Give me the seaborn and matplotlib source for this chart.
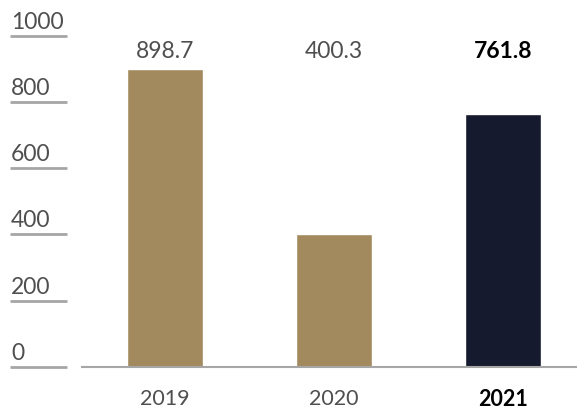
import matplotlib
matplotlib.use("Agg")
import matplotlib.pyplot as plt
import seaborn as sns
import pandas as pd

years = ["2019", "2020", "2021"]
values = [898.7, 400.3, 761.8]
value_labels = ["898.7", "400.3", "761.8"]
y_ticks = [0, 200, 400, 600, 800, 1000]
y_tick_labels = ["0", "200", "400", "600", "800", "1000"]

GOLD = "#A28A5E"
NAVY = "#151A2E"
GREY_TEXT = "#4F4F4F"
LINE = "#A6A6A6"

sns.set_theme(style="white")
plt.rcParams["font.family"] = ["Lato", "DejaVu Sans"]

df = pd.DataFrame({"year": years, "value": values})
palette = {"2019": GOLD, "2020": GOLD, "2021": NAVY}

W, H = 577, 411
fig = plt.figure(figsize=(W / 100, H / 100), dpi=100)

# axes geometry in pixels
px_left, px_right = 10, 577
px_zero, px_top = 367, 20
ax = fig.add_axes([px_left / W, (H - px_zero) / H,
                   (px_right - px_left) / W, (px_zero - px_top) / H])

sns.barplot(data=df, x="year", y="value", hue="year", palette=palette,
            width=0.45, legend=False, ax=ax, saturation=1)

# horizontal scale: 169 px per category, first bar centre at 165 px
step = 169.0
x0 = -(165 - px_left) / step
x1 = (px_right - 165) / step
ax.set_xlim(x0, x1)
ppu = 66.3 / 200  # pixels per data unit
ymax = (px_zero - px_top) / ppu
ax.set_ylim(0, ymax)

for s in ax.spines.values():
    s.set_visible(False)
ax.set_yticks([])
ax.set_xlabel("")
ax.set_ylabel("")

# short tick rules with labels sitting above them
seg_end = x0 + (67 - px_left) / step
for t, lab in zip(y_ticks, y_tick_labels):
    ax.hlines(t, x0, seg_end, color=LINE, lw=2, clip_on=False)
    ax.text(x0 + 1 / step, t + 7 / ppu, lab, ha="left", va="baseline",
            fontsize=16.5, color=GREY_TEXT)

# baseline under the bars
ax.hlines(0, x0 + (81 - px_left) / step, x1, color=LINE, lw=1.5, clip_on=False)

# value labels in a row above the bars
for i, lab in enumerate(value_labels):
    bold = i == len(value_labels) - 1
    ax.text(i, (px_zero - 58) / ppu, lab, ha="center", va="baseline",
            fontsize=16.5, color="black" if bold else GREY_TEXT,
            fontweight="bold" if bold else "normal")

ax.set_xticks(range(len(years)))
ax.set_xticklabels(years)
ax.tick_params(axis="x", length=0, pad=16, labelsize=15.5, colors=GREY_TEXT)
last = ax.get_xticklabels()[-1]
last.set_fontweight("bold")
last.set_color("black")

fig.savefig("out.png", dpi=100)
